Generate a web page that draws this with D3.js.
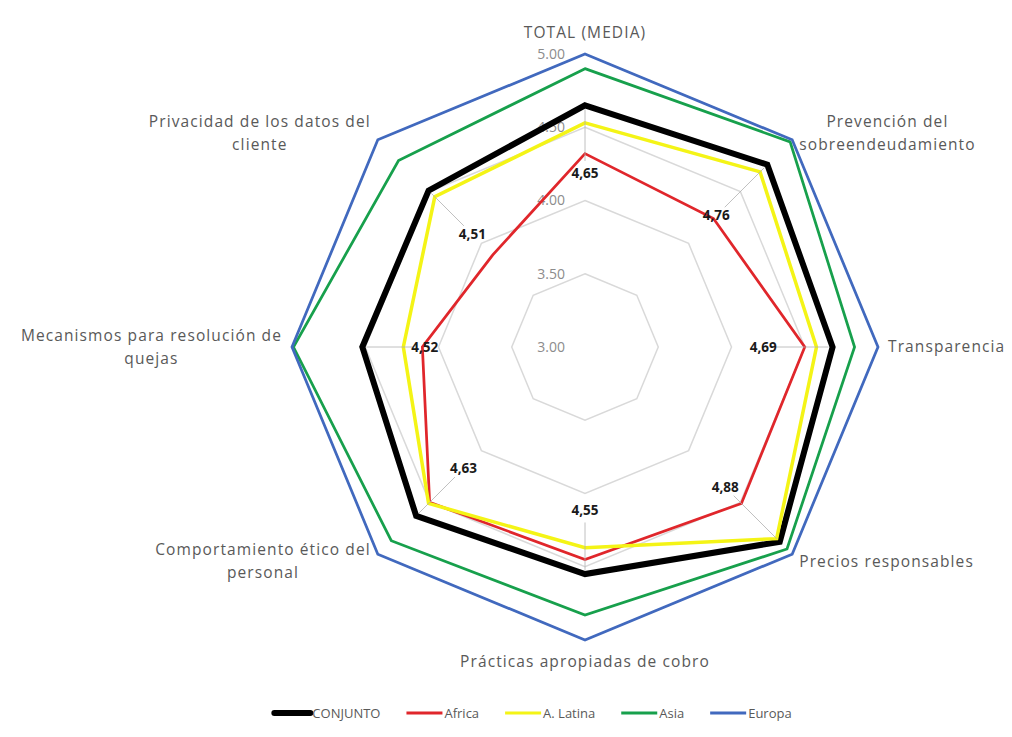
<!DOCTYPE html>
<html>
<head>
<meta charset="utf-8">
<script src="https://cdn.jsdelivr.net/npm/d3@7"></script>
<style>
  body { margin: 0; background: #fff; }
  text { font-family: "Open Sans", sans-serif; }
</style>
</head>
<body>
<svg id="chart" width="1012" height="737"></svg>
<script>
// data
var categories = [
  'TOTAL (MEDIA)',
  'Prevención del\nsobreendeudamiento',
  'Transparencia',
  'Precios responsables',
  'Prácticas apropiadas de cobro',
  'Comportamiento ético del\npersonal',
  'Mecanismos para resolución de\nquejas',
  'Privacidad de los datos del\ncliente'
]
var seriesNames = ['CONJUNTO', 'Africa', 'A. Latina', 'Asia', 'Europa']
var conjunto = [4.65, 4.76, 4.69, 4.88, 4.55, 4.63, 4.52, 4.51]
var africa = [4.32, 4.24, 4.50, 4.51, 4.45, 4.50, 4.11, 3.89]
var latina = [4.53, 4.69, 4.58, 4.85, 4.37, 4.51, 4.24, 4.45]
var asia = [4.90, 4.98, 4.84, 4.95, 4.83, 4.87, 4.99, 4.80]
var europa = [5.00, 5.00, 5.00, 5.00, 5.00, 5.00, 5.00, 5.00]
var ticks = [3.00, 3.50, 4.00, 4.50, 5.00]

var seriesValues = [conjunto, africa, latina, asia, europa]
var colors = ['#000000', '#e0262b', '#f4f416', '#17a04c', '#4169be']
var widths = [6, 2.75, 3.5, 2.75, 2.75]

var cx = 585
var cy = 347
var radius = 293

var svg = d3.select('#chart')

var r = d3.scaleLinear().domain([3, 5]).range([0, radius])
var angle = d3.scaleLinear().domain([0, categories.length]).range([0, 2 * Math.PI])

function pt (i, rad) {
  var a = angle(i)
  return [cx + rad * Math.sin(a), cy - rad * Math.cos(a)]
}

var chart = svg.append('g')

/*
    grid rings
*/
chart.selectAll('.ring')
    .data(ticks.slice(1))
    .enter()
    .append('polygon')
    .classed('ring', true)
    .attr('points', t => categories.map((c, i) => pt(i, r(t)).join(',')).join(' '))
    .attr('fill', 'none')
    .attr('stroke', '#d9d9d9')
    .attr('stroke-width', 1.5)

chart.selectAll('.tick')
    .data(ticks)
    .enter()
    .append('text')
    .classed('tick', true)
    .attr('x', cx - 20)
    .attr('y', t => cy - r(t))
    .attr('dy', '0.35em')
    .attr('text-anchor', 'end')
    .attr('fill', '#8c8c8c')
    .style('font-size', '14px')
    .text(d3.format('.2f'))

/*
    series
*/
var line = d3.lineRadial()
    .angle((d, i) => angle(i))
    .radius(d => r(d))
    .curve(d3.curveLinearClosed)

chart.append('g')
    .attr('transform', `translate(${cx},${cy})`)
    .selectAll('path')
    .data(seriesValues)
    .enter()
    .append('path')
    .attr('d', line)
    .attr('fill', 'none')
    .attr('stroke', (d, i) => colors[i])
    .attr('stroke-width', (d, i) => widths[i])
    .attr('stroke-linejoin', 'miter')

/*
    data labels (CONJUNTO) with leader lines
*/
var comma = d3.formatLocale({decimal: ',', thousands: '.', grouping: [3], currency: ['', '']}).format('.2f')
var labelR = v => r(v) * 0.72

chart.selectAll('.leader')
    .data(conjunto)
    .enter()
    .append('line')
    .classed('leader', true)
    .attr('x1', (v, i) => pt(i, labelR(v) + 12)[0])
    .attr('y1', (v, i) => pt(i, labelR(v) + 12)[1])
    .attr('x2', (v, i) => pt(i, r(v) - 4)[0])
    .attr('y2', (v, i) => pt(i, r(v) - 4)[1])
    .attr('stroke', '#b0b0b0')
    .attr('stroke-width', 0.8)

chart.selectAll('.dlabel')
    .data(conjunto)
    .enter()
    .append('text')
    .classed('dlabel', true)
    .attr('x', (v, i) => pt(i, labelR(v))[0])
    .attr('y', (v, i) => pt(i, labelR(v))[1])
    .attr('dy', '0.35em')
    .attr('text-anchor', 'middle')
    .attr('fill', '#1a1a1a')
    .style('font-size', '13.5px')
    .style('font-weight', 'bold')
    .text(v => comma(v))

/*
    category labels
*/
var lineH = 23
categories.forEach(function (name, i) {
  var a = angle(i)
  var s = Math.sin(a)
  var c = Math.cos(a)
  var p = pt(i, radius + 10)
  var lines = name.split('\n')
  var t = chart.append('text')
      .attr('text-anchor', 'middle')
      .attr('fill', '#595959')
      .style('font-size', '15.5px')
      .style('letter-spacing', '1.1px')
  var spans = t.selectAll('tspan').data(lines).enter().append('tspan').text(d => d)
  var w = d3.max(spans.nodes(), n => n.getComputedTextLength())
  var h = lines.length * lineH
  var x = p[0]
  var y = p[1]
  if (s > 0.3) x += w / 2
  if (s < -0.3) x -= w / 2
  if (c > 0.9) y -= h / 2
  if (c < -0.9) y += h / 2
  spans.attr('x', x)
      .attr('y', (d, k) => y - h / 2 + lineH * (k + 0.5))
      .attr('dy', '0.35em')
})

/*
    legend
*/
var legend = svg.append('g').attr('transform', 'translate(0,713)')
var items = legend.selectAll('g')
    .data(seriesNames)
    .enter()
    .append('g')

items.append('line')
    .attr('x1', 0).attr('x2', 36)
    .attr('stroke', (d, i) => colors[i])
    .attr('stroke-width', (d, i) => i === 0 ? 6 : 3)
    .attr('stroke-linecap', (d, i) => i === 0 ? 'round' : 'butt')

items.append('text')
    .attr('x', 38)
    .attr('dy', '0.35em')
    .attr('fill', '#595959')
    .style('font-size', '13px')
    .text(d => d)

var offs = []
var total = 0
items.each(function () {
  offs.push(total)
  total += 38 + this.querySelector('text').getComputedTextLength() + 26
})
total -= 26
var start = 533 - total / 2
items.attr('transform', (d, i) => `translate(${start + offs[i]},0)`)
</script>
</body>
</html>
